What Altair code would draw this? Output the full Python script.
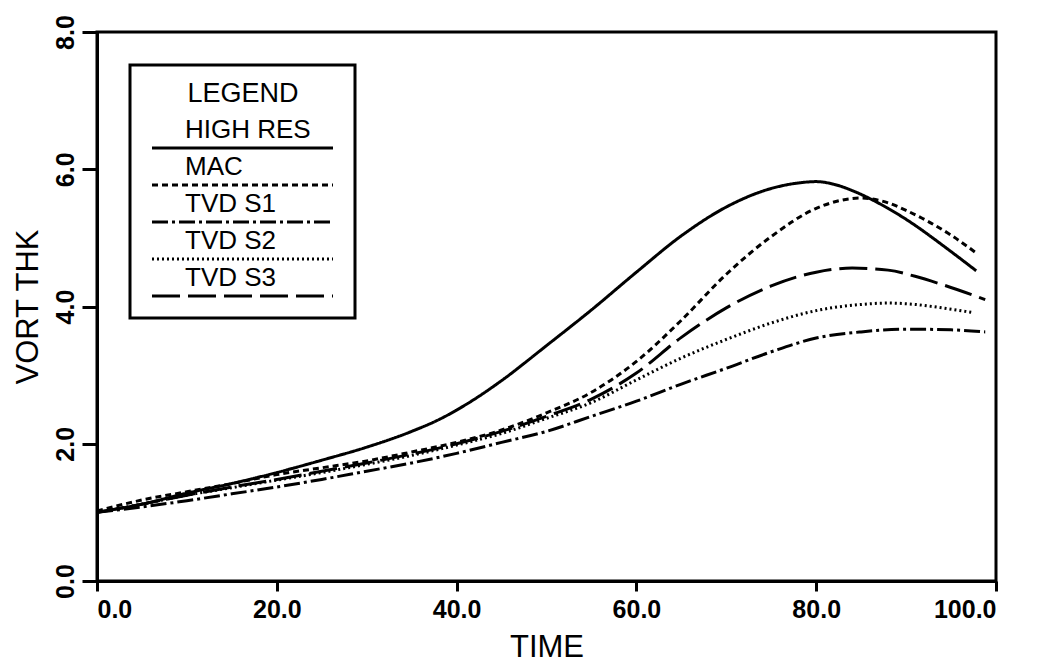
import altair as alt
import pandas as pd

series_names = ["HIGH RES", "MAC", "TVD S1", "TVD S2", "TVD S3"]

hr_t = [0, 5, 10, 15, 20, 25, 30, 35, 38, 42, 45, 50, 55, 60, 65, 70, 75, 78, 80, 82, 84, 86, 88, 90, 95, 97.8]
hr_v = [1.0, 1.12, 1.28, 1.42, 1.58, 1.76, 1.95, 2.18, 2.35, 2.65, 2.92, 3.43, 3.95, 4.5, 5.03, 5.45, 5.72, 5.8, 5.82, 5.78, 5.69, 5.57, 5.43, 5.27, 4.8, 4.52]

mac_t = [0, 5, 10, 15, 20, 25, 30, 35, 40, 45, 50, 55, 60, 65, 70, 75, 80, 85, 88, 90, 95, 97.8]
mac_v = [1.02, 1.18, 1.3, 1.42, 1.55, 1.65, 1.75, 1.88, 2.02, 2.2, 2.45, 2.75, 3.2, 3.8, 4.47, 5.02, 5.43, 5.58, 5.51, 5.4, 5.04, 4.78]

s1_t = [0, 5, 10, 15, 20, 25, 30, 35, 40, 45, 50, 55, 60, 65, 70, 75, 80, 85, 90, 95, 98.8]
s1_v = [1.0, 1.08, 1.17, 1.27, 1.37, 1.48, 1.6, 1.72, 1.86, 2.02, 2.18, 2.4, 2.62, 2.87, 3.1, 3.34, 3.54, 3.63, 3.67, 3.66, 3.63]

s2_t = [0, 5, 10, 15, 20, 25, 30, 35, 40, 45, 50, 55, 60, 65, 70, 75, 80, 85, 88, 91, 94, 97.5]
s2_v = [1.0, 1.12, 1.25, 1.36, 1.47, 1.58, 1.7, 1.83, 1.98, 2.15, 2.37, 2.6, 2.93, 3.25, 3.52, 3.76, 3.94, 4.03, 4.05, 4.03, 3.98, 3.91]

s3_t = [0, 5, 10, 15, 20, 25, 30, 35, 40, 45, 50, 55, 60, 65, 70, 75, 80, 84, 88, 91, 94, 98.8]
s3_v = [1.0, 1.12, 1.25, 1.37, 1.48, 1.6, 1.72, 1.85, 2.0, 2.18, 2.4, 2.65, 3.03, 3.55, 3.98, 4.3, 4.5, 4.56, 4.53, 4.44, 4.32, 4.1]

x_ticks = [0, 20, 40, 60, 80, 100]
y_ticks = [0, 2, 4, 6, 8]
dash_styles = [[1, 0], [6, 4], [16, 4, 3, 4], [2, 3], [28, 8]]

rows = []
for name, ts, vs in zip(series_names, [hr_t, mac_t, s1_t, s2_t, s3_t], [hr_v, mac_v, s1_v, s2_v, s3_v]):
    for t, v in zip(ts, vs):
        rows.append({"series": name, "time": t, "vort": v})
df = pd.DataFrame(rows)

FONT = "Liberation Sans"

chart = alt.Chart(df).mark_line(color="black", strokeWidth=3, interpolate="monotone").encode(
    x=alt.X("time:Q", scale=alt.Scale(domain=[0, 100], nice=False),
            axis=alt.Axis(title="TIME", values=x_ticks, format=".1f", tickSize=10,
                          labelPadding=6, titlePadding=10)),
    y=alt.Y("vort:Q", scale=alt.Scale(domain=[0, 8], nice=False),
            axis=alt.Axis(title="VORT THK", values=y_ticks, format=".1f", tickSize=15,
                          labelAngle=270, labelAlign="center", labelBaseline="bottom",
                          labelPadding=4, titlePadding=9)),
    strokeDash=alt.StrokeDash("series:N",
                              scale=alt.Scale(domain=series_names, range=dash_styles),
                              legend=alt.Legend(title="LEGEND", orient="none", legendX=33, legendY=33)),
    detail="series:N",
).properties(
    width=899, height=549,
    autosize=alt.AutoSizeParams(type="none"),
    padding={"left": 89, "top": 24, "right": 33, "bottom": 82},
).configure_view(
    stroke="black", strokeWidth=3
).configure_axis(
    grid=False, domainColor="black", domainWidth=3, tickColor="black", tickWidth=3,
    labelFont=FONT, labelFontSize=25, labelFontWeight="bold", labelColor="black",
    titleFont=FONT, titleFontSize=31, titleFontWeight="normal", titleColor="black",
).configure_legend(
    strokeColor="black", strokeWidth=3, padding=16, fillColor="white",
    symbolType="M-1.4,1H34.8", symbolSize=100, symbolStrokeWidth=3, symbolStrokeColor="black",
    symbolOffset=0, labelAlign="left", labelBaseline="bottom", labelOffset=13,
    labelFont=FONT, labelFontSize=26,
    labelColor="black", rowPadding=0,
    titleFont=FONT, titleFontSize=27, titleFontWeight="normal", titleColor="black",
    titleAnchor="middle", titlePadding=22,
)

chart.save("out.html", embed_options={"renderer": "svg", "actions": False})
